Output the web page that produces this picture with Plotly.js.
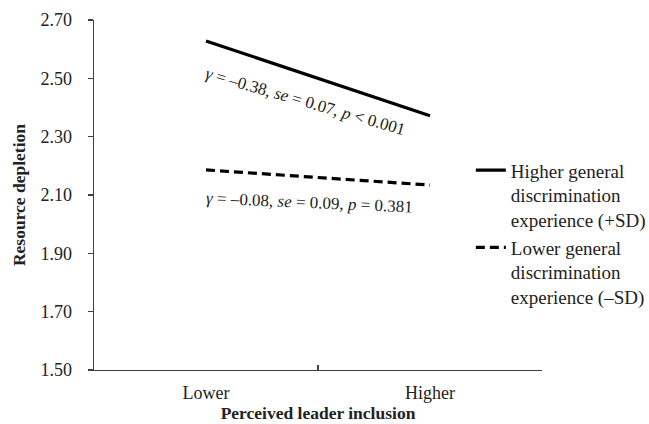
<!DOCTYPE html>
<html>
<head>
<meta charset="utf-8">
<script src="https://cdn.plot.ly/plotly-3.0.1.min.js"></script>
<style>html,body{margin:0;padding:0;background:#fff;}#chart{width:649px;height:424px;}</style>
</head>
<body>
<div id="chart"></div>
<script>
const categories = ["Lower", "Higher"];
const seriesNames = ["Higher general<br>discrimination<br>experience (+SD)", "Lower general<br>discrimination<br>experience (–SD)"];
const higherSD = [2.628, 2.372];
const lowerSD = [2.186, 2.134];
const yTicks = [1.50, 1.70, 1.90, 2.10, 2.30, 2.50, 2.70];
const slopeLabels = [
  "<i>γ</i> = –0.38, <i>se</i> = 0.07, <i>p</i> &lt; 0.001",
  "<i>γ</i> = –0.08, <i>se</i> = 0.09, <i>p</i> = 0.381"
];

const FONT = "Liberation Serif, Times New Roman, serif";
const axisColor = "#404040";

const traces = [
  {x: categories, y: higherSD, name: seriesNames[0], type: "scatter", mode: "lines",
   line: {color: "#000", width: 3.2}},
  {x: categories, y: lowerSD, name: seriesNames[1], type: "scatter", mode: "lines",
   line: {color: "#000", width: 3.2, dash: "9px,5px"}}
];

const layout = {
  width: 649, height: 424,
  margin: {l: 94, r: 107, t: 20, b: 54, autoexpand: false},
  paper_bgcolor: "#fff", plot_bgcolor: "#fff",
  font: {family: FONT, size: 18, color: "#222"},
  showlegend: true,
  legend: {xref: "container", yref: "container", x: 0.7255, y: 0.643, xanchor: "left", yanchor: "top", valign: "top",
           font: {family: FONT, size: 19, color: "#222"}, tracegroupgap: 0,
           bgcolor: "rgba(0,0,0,0)", borderwidth: 0},
  xaxis: {type: "category", range: [-0.5, 1.5], tickson: "boundaries",
          ticks: "inside", ticklen: 5, tickcolor: axisColor, tickwidth: 1.3,
          showline: true, linecolor: axisColor, linewidth: 1.3,
          showgrid: false, zeroline: false, ticklabelstandoff: 6,
          tickfont: {family: FONT, size: 18, color: "#222"},
          title: {text: "<b>Perceived leader inclusion</b>", font: {family: FONT, size: 17.5, color: "#222"}, standoff: 4},
          fixedrange: true},
  yaxis: {range: [1.5, 2.7], tickvals: yTicks, tickformat: ".2f",
          ticks: "outside", ticklen: 5, tickcolor: axisColor, tickwidth: 1.3,
          showline: true, linecolor: axisColor, linewidth: 1.3,
          showgrid: false, zeroline: false, ticklabelstandoff: 12,
          tickfont: {family: FONT, size: 18, color: "#222"},
          title: {text: "<b>Resource depletion</b>", font: {family: FONT, size: 17.5, color: "#222"}, standoff: 10},
          fixedrange: true},
  annotations: [
    {xref: "paper", yref: "y", x: 0.472, y: 2.422, text: slopeLabels[0], showarrow: false,
     textangle: 16, font: {family: FONT, size: 17, color: "#222"}},
    {xref: "paper", yref: "y", x: 0.48, y: 2.073, text: slopeLabels[1], showarrow: false,
     textangle: 2.5, font: {family: FONT, size: 17, color: "#222"}}
  ]
};

Plotly.newPlot("chart", traces, layout, {displayModeBar: false, staticPlot: true});
</script>
</body>
</html>
